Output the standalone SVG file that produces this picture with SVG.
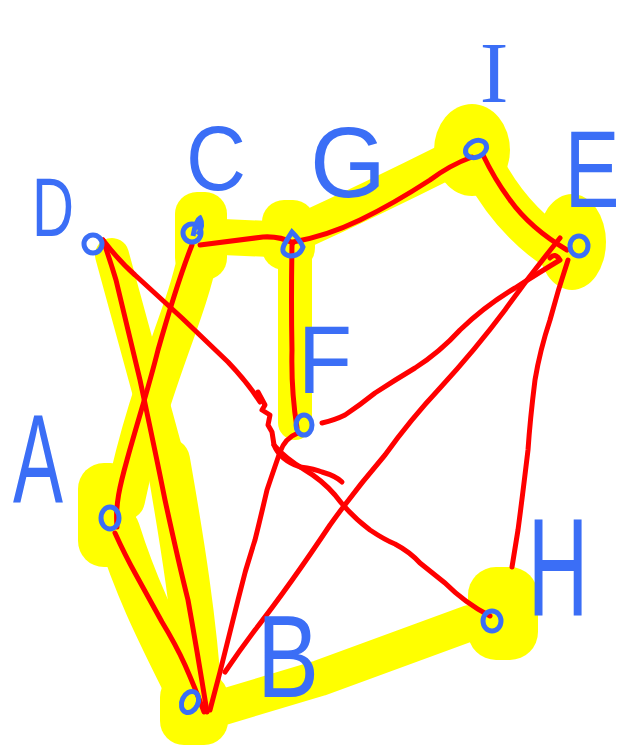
<svg xmlns="http://www.w3.org/2000/svg" width="628" height="747" viewBox="0 0 628 747">
<style>
.hl{fill:none;stroke:#ffff00;stroke-linecap:round;stroke-linejoin:round}
.blob{fill:#ffff00}
.e{fill:none;stroke:#ff0000;stroke-width:5;stroke-linecap:round;stroke-linejoin:round}
.n{fill:none;stroke:#3b6ef6;stroke-width:5}
.lbl{fill:#3b6ef6;font-family:"Liberation Sans",Arial,sans-serif;text-anchor:middle}
</style>
<rect width="628" height="747" fill="#ffffff"/>
<g id="highlight">
<rect class="blob" x="175" y="192" width="52" height="88" rx="22"/>
<path class="hl" stroke-width="36" d="M200,236 L293,240"/>
<rect class="blob" x="262" y="200" width="53" height="70" rx="22"/>
<path class="hl" stroke-width="34" stroke-linecap="butt" d="M295,245 L295,423"/>
<path class="hl" stroke-width="36" d="M300,232 Q370,200 450,160"/>
<ellipse class="blob" cx="472" cy="150" rx="38" ry="46"/>
<path class="hl" stroke-width="42" d="M485,170 Q515,225 565,255"/>
<ellipse class="blob" cx="572" cy="242" rx="34" ry="48"/>
<path class="hl" stroke-width="40" d="M198,255 C185,320 150,380 125,500"/>
<rect class="blob" x="78" y="463" width="58" height="104" rx="26"/>
<path class="hl" stroke-width="34" d="M112,255 C135,340 152,400 168,460"/>
<path class="hl" stroke-width="44" d="M168,460 C182,540 195,620 200,700"/>
<path class="hl" stroke-width="44" d="M118,530 C140,600 168,650 192,700"/>
<rect class="blob" x="160" y="673" width="68" height="72" rx="24"/>
<path class="hl" stroke-width="36" d="M200,714 L320,678 L470,623"/>
<rect class="blob" x="468" y="567" width="70" height="93" rx="28"/>
</g>
<g id="edges">
<path class="e" d="M200,245 L263,237 Q280,236 293,243"/>
<path class="e" d="M293,242 Q327,236 360,220 T430,180 Q450,165 472,157"/>
<path class="e" d="M483,155 Q495,180 510,200 Q530,228 567,250"/>
<path class="e" d="M292,245 Q291,300 292,350 Q291,390 297,428"/>
<path class="e" d="M192,245 C180,275 168,315 158,350 C148,390 138,420 127,460 C120,485 115,505 117,527"/>
<path class="e" d="M115,533 Q125,555 135,573 Q150,600 162,622 Q176,645 185,665 Q196,690 204,712"/>
<path class="e" d="M103,240 Q110,260 116,280 Q128,330 140,380 Q155,450 165,500 Q178,560 188,600 Q197,650 207,712"/>
<path class="e" d="M103,240 Q120,262 135,275 Q160,298 182,318 Q205,340 228,362 Q248,383 260,402"/>
<path class="e" d="M258,392 L265,405 L262,410 L270,415 L268,425 L272,432 L274,445 Q280,460 300,467 Q315,469 322,472 Q336,476 342,482"/>
<path class="e" d="M274,445 Q285,458 305,470 Q322,480 335,495 Q350,515 370,530 Q385,540 395,544 Q410,552 420,563 Q435,575 445,583 Q465,603 490,616"/>
<path class="e" d="M298,433 Q285,438 280,452 Q272,475 267,490 Q260,520 255,540 Q245,570 238,600 Q228,640 220,672 Q214,695 210,710"/>
<path class="e" d="M225,672 Q240,650 255,630 Q290,585 330,525 Q355,490 385,455 Q410,420 440,388 Q475,350 505,310 Q530,275 560,238"/>
<path class="e" d="M322,423 Q335,420 345,415 Q360,405 375,393 Q395,380 415,368 Q440,352 460,330 Q485,306 515,288 Q540,272 560,260 Q555,252 550,258"/>
<path class="e" d="M568,260 Q558,290 550,320 Q540,350 535,380 Q530,420 528,450 Q522,500 518,530 Q514,555 512,567"/>
</g>
<g id="D"><circle class="n" cx="93" cy="244" r="9"/><text class="lbl" x="53" y="236" font-size="84" textLength="42" lengthAdjust="spacingAndGlyphs">D</text></g>
<g id="C"><circle class="n" cx="192" cy="233" r="9"/><path class="n" d="M193,236 Q196,220 200,218 Q204,225 198,235" stroke-width="3.5"/><text class="lbl" x="216" y="190" font-size="90" textLength="60" lengthAdjust="spacingAndGlyphs">C</text></g>
<g id="G"><path class="n" d="M292,232 Q300,240 303,247 Q300,256 290,256 Q280,254 284,245 Q288,238 292,232 Z"/><text class="lbl" x="348" y="197" font-size="100" textLength="76" lengthAdjust="spacingAndGlyphs">G</text></g>
<g id="I"><ellipse class="n" cx="476" cy="149" rx="11" ry="8" transform="rotate(-25 476 149)"/><text class="lbl" x="494" y="102" font-size="86" style="font-family:'Liberation Serif',serif">I</text></g>
<g id="E"><ellipse class="n" cx="579" cy="246" rx="9" ry="10"/><text class="lbl" transform="translate(592,207) scale(0.75,1)" font-size="110">E</text></g>
<g id="F"><ellipse class="n" cx="304" cy="425" rx="8" ry="10"/><text class="lbl" x="325" y="393" font-size="96" textLength="54" lengthAdjust="spacingAndGlyphs">F</text></g>
<g id="A"><ellipse class="n" cx="110" cy="518" rx="9" ry="11"/><text class="lbl" x="38" y="502" font-size="126" textLength="50" lengthAdjust="spacingAndGlyphs">A</text></g>
<g id="B"><ellipse class="n" cx="190" cy="702" rx="8" ry="11" transform="rotate(25 190 702)"/><text class="lbl" x="288" y="697" font-size="116" textLength="62" lengthAdjust="spacingAndGlyphs">B</text></g>
<g id="H"><ellipse class="n" cx="492" cy="621" rx="9" ry="10"/><text class="lbl" transform="translate(558,615) scale(0.6,1)" font-size="140">H</text></g>
</svg>
